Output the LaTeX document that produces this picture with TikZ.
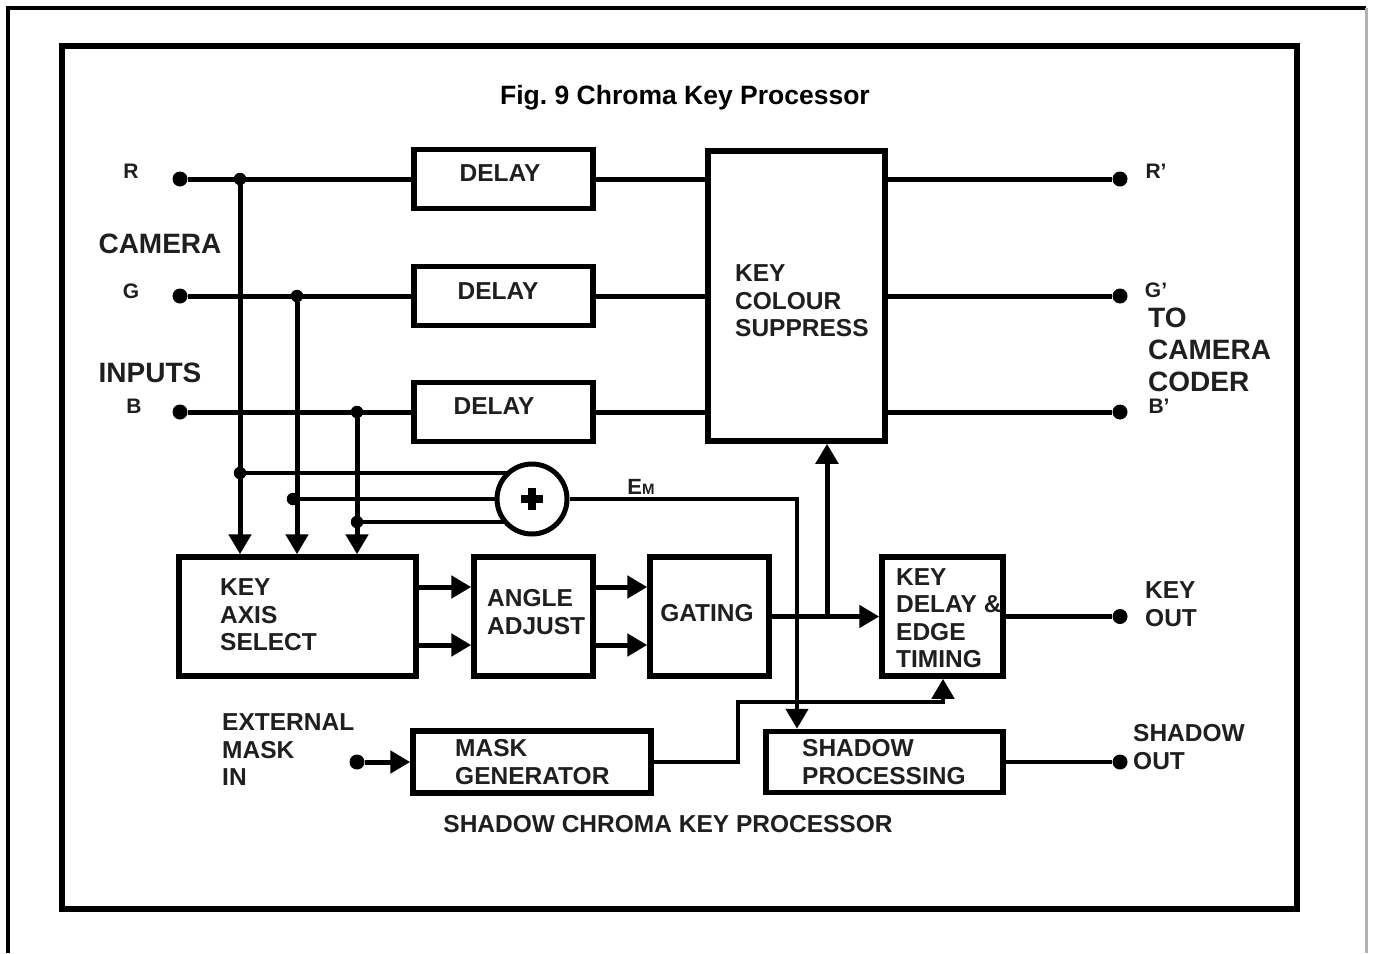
\documentclass[tikz,border=0pt]{standalone}
\usepackage{fontspec}
\setmainfont{Liberation Sans}
\usetikzlibrary{arrows.meta}
\begin{document}
\begin{tikzpicture}[x=1pt,y=-1pt,
  box/.style={draw, line width=5.5pt, rectangle, inner sep=0pt},
  wire/.style={line width=5pt},
  thinwire/.style={line width=4.5pt},
  arr/.style={-{Triangle[length=20pt,width=22pt]}},
  bigdot/.style={circle, fill=black, inner sep=0pt, minimum size=15pt},
  jdot/.style={circle, fill=black, inner sep=0pt, minimum size=12.5pt},
  txt/.style={font=\fontsize{24.5}{27.5}\selectfont\bfseries, text=black!88, inner sep=0pt, align=left},
  bigtxt/.style={font=\fontsize{28}{32}\selectfont\bfseries, text=black!88, inner sep=0pt, align=left},
  smalltxt/.style={font=\fontsize{21}{23}\selectfont\bfseries, text=black!88, inner sep=0pt}
]
\useasboundingbox (0,0) rectangle (1373,953);
\fill[white] (0,0) rectangle (1373,953);
% outer frame
\draw[line width=4pt] (8,953) -- (8,8) -- (1366,8);
\draw[line width=3pt, black!30] (1366,8) -- (1366,953);
% inner frame
\draw[line width=6pt] (62,46) rectangle (1297,909);

% title
\node[font=\fontsize{26.5}{30}\selectfont\bfseries, inner sep=0pt] (title) at (685,98) {Fig.\ 9 Chroma Key Processor};

% boxes
\node[box, minimum width=179pt, minimum height=59pt] (dR) at (503.5,179) {};
\node[box, minimum width=179pt, minimum height=59pt] (dG) at (503.5,296) {};
\node[box, minimum width=179pt, minimum height=59pt] (dB) at (503.5,412) {};
\node[box, minimum width=177pt, minimum height=290pt] (kcs) at (796.5,296) {};
\node[box, minimum width=237pt, minimum height=119pt] (kas) at (297.5,616.5) {};
\node[box, minimum width=119pt, minimum height=119pt] (aa) at (533.5,616.5) {};
\node[box, minimum width=119pt, minimum height=119pt] (gat) at (709.5,616.5) {};
\node[box, minimum width=121pt, minimum height=119pt] (kd) at (942.5,616.5) {};
\node[box, minimum width=238pt, minimum height=62pt] (mg) at (532,762) {};
\node[box, minimum width=237pt, minimum height=61pt] (sp) at (884.5,762) {};
\node[draw, circle, line width=5pt, minimum size=70pt, inner sep=0pt] (sum) at (532,499) {};
\draw[line width=8pt] ([xshift=-11pt]sum.center) -- ([xshift=11pt]sum.center);
\draw[line width=8pt] ([yshift=-11pt]sum.center) -- ([yshift=11pt]sum.center);

% box texts
\node[txt] (tdR) at (500,173) {DELAY};
\node[txt] (tdG) at (498,291) {DELAY};
\node[txt] (tdB) at (494,406) {DELAY};
\node[txt, anchor=west] (tkcs) at (735,301) {KEY\\COLOUR\\SUPPRESS};
\node[txt, anchor=west] (tkas) at (220,615) {KEY\\AXIS\\SELECT};
\node[txt, anchor=west] (taa) at (487,612) {ANGLE\\ADJUST};
\node[txt] (tgat) at (707,613) {GATING};
\node[txt, anchor=west] (tkd) at (896,618) {KEY\\DELAY \&\\EDGE\\TIMING};
\node[txt, anchor=west] (tmg) at (455,762) {MASK\\GENERATOR};
\node[txt, anchor=west] (tsp) at (802,762) {SHADOW\\PROCESSING};
\node[txt] (tscp) at (668,824) {SHADOW CHROMA KEY PROCESSOR};

% input labels
\node[smalltxt] (lR) at (131,171) {R};
\node[smalltxt] (lG) at (131,291) {G};
\node[smalltxt] (lB) at (134,406) {B};
\node[bigtxt] (lcam) at (160,244) {CAMERA};
\node[bigtxt] (linp) at (150,373) {INPUTS};
% output labels
\node[smalltxt] (lRo) at (1156,171) {R'};
\node[smalltxt] (lGo) at (1156,290) {G'};
\node[smalltxt] (lBo) at (1159,406) {B'};
\node[bigtxt, anchor=west] (lto) at (1148,350) {TO\\CAMERA\\CODER};
\node[txt, anchor=west] (lko) at (1145,604) {KEY\\OUT};
\node[txt, anchor=west] (lso) at (1133,747) {SHADOW\\OUT};
\node[txt, anchor=west] (lext) at (222,750) {EXTERNAL\\MASK\\IN};
\node[inner sep=0pt, text=black!88, font=\bfseries] (lem) at (641,487) {\fontsize{22}{24}\selectfont E\fontsize{15}{16}\selectfont M};

% input dots and junctions
\node[bigdot] (inR) at (180,179) {};
\node[bigdot] (inG) at (180,296) {};
\node[bigdot] (inB) at (180,412) {};
\node[jdot] (jR) at (240,179) {};
\node[jdot] (jG) at (297,296) {};
\node[jdot] (jB) at (357,412) {};
\node[jdot] (sR) at (240,473) {};
\node[jdot] (sG) at (293,499) {};
\node[jdot] (sB) at (357,522) {};
% output dots
\node[bigdot] (oR) at (1120,179) {};
\node[bigdot] (oG) at (1120,296) {};
\node[bigdot] (oB) at (1120,412) {};
\node[bigdot] (oK) at (1120,616.5) {};
\node[bigdot] (oS) at (1120,762) {};
\node[bigdot] (inM) at (357,762) {};

% RGB lines
\draw[wire] (inR) -- (inR -| dR.west);
\draw[wire] (inG) -- (inG -| dG.west);
\draw[wire] (inB) -- (inB -| dB.west);
\draw[wire] (dR.east) -- (dR.east -| kcs.west);
\draw[wire] (dG.east) -- (dG.east -| kcs.west);
\draw[wire] (dB.east) -- (dB.east -| kcs.west);
\draw[wire] (oR -| kcs.east) -- (oR);
\draw[wire] (oG -| kcs.east) -- (oG);
\draw[wire] (oB -| kcs.east) -- (oB);

% taps into key axis select
\draw[wire, arr] (jR) -- (jR |- kas.north);
\draw[wire, arr] (jG) -- (jG |- kas.north);
\draw[wire, arr] (jB) -- (jB |- kas.north);

% lines to summer
\draw[thinwire] (sR) -- (sR -| sum.132);
\draw[thinwire] (sG) -- (sum.west);
\draw[thinwire] (sB) -- (sB -| sum.221);

% summer output EM to shadow processing
\coordinate (emc) at (797,499);
\draw[thinwire, arr] (sum.east) -- (emc) -- (emc |- sp.north);

% key chain
\draw[wire, arr] ([yshift=29.5pt]kas.east) -- ([yshift=29.5pt]aa.west);
\draw[wire, arr] ([yshift=-28.5pt]kas.east) -- ([yshift=-28.5pt]aa.west);
\draw[wire, arr] ([yshift=29.5pt]aa.east) -- ([yshift=29.5pt]gat.west);
\draw[wire, arr] ([yshift=-28.5pt]aa.east) -- ([yshift=-28.5pt]gat.west);
\draw[wire, arr] (gat.east) -- (kd.west);
\coordinate (br) at (827,616.5);
\draw[wire, arr] (br) -- (br |- kcs.south);
\draw[wire] (kd.east) -- (oK);

% mask path
\draw[wire, arr] (inM) -- (mg.west);
\coordinate (mk1) at (738,702);
\coordinate (mk2) at (943,702);
\draw[thinwire, arr] (mg.east) -| (mk1) -- (mk2) -- (mk2 |- kd.south);

% shadow out
\draw[line width=3.5pt] (sp.east) -- (oS);
\end{tikzpicture}
\end{document}
